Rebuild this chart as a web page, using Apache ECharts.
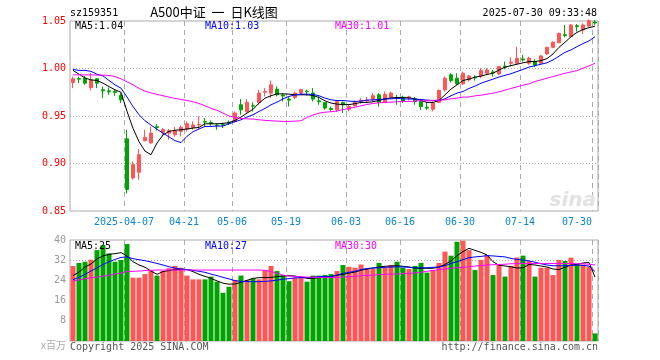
<!DOCTYPE html>
<html><head><meta charset="utf-8">
<script src="https://cdn.jsdelivr.net/npm/echarts@6/dist/echarts.min.js"></script>
<style>html,body{margin:0;padding:0;background:#fff;}#c{width:660px;height:360px;}</style>
</head><body><div id="c"></div>
<script>
const dates = [
'2025-03-24','2025-03-25','2025-03-26','2025-03-27','2025-03-28','2025-03-31',
'2025-04-01','2025-04-02','2025-04-03',
'2025-04-07','2025-04-08','2025-04-09','2025-04-10','2025-04-11',
'2025-04-14','2025-04-15','2025-04-16','2025-04-17','2025-04-18',
'2025-04-21','2025-04-22','2025-04-23','2025-04-24','2025-04-25',
'2025-04-28','2025-04-29','2025-04-30',
'2025-05-06','2025-05-07','2025-05-08','2025-05-09',
'2025-05-12','2025-05-13','2025-05-14','2025-05-15','2025-05-16',
'2025-05-19','2025-05-20','2025-05-21','2025-05-22','2025-05-23',
'2025-05-26','2025-05-27','2025-05-28','2025-05-29','2025-05-30',
'2025-06-03','2025-06-04','2025-06-05','2025-06-06',
'2025-06-09','2025-06-10','2025-06-11','2025-06-12','2025-06-13',
'2025-06-16','2025-06-17','2025-06-18','2025-06-19','2025-06-20',
'2025-06-23','2025-06-24','2025-06-25','2025-06-26','2025-06-27',
'2025-06-30',
'2025-07-01','2025-07-02','2025-07-03','2025-07-04',
'2025-07-07','2025-07-08','2025-07-09','2025-07-10','2025-07-11',
'2025-07-14','2025-07-15','2025-07-16','2025-07-17','2025-07-18',
'2025-07-21','2025-07-22','2025-07-23','2025-07-24','2025-07-25',
'2025-07-28','2025-07-29','2025-07-30'];

const opens = [0.9853,0.9895,0.9898,0.9800,0.9891,0.9776,0.9765,0.9758,0.9716,0.9260,
0.8848,0.8908,0.9240,0.9216,0.9387,0.9328,0.9320,0.9303,0.9338,0.9363,
0.9380,0.9405,0.9443,0.9432,0.9405,0.9412,0.9436,0.9443,0.9618,0.9548,
0.9611,0.9643,0.9751,0.9741,0.9783,0.9720,0.9678,0.9695,0.9741,0.9762,
0.9741,0.9660,0.9643,0.9580,0.9565,0.9643,0.9572,0.9607,0.9650,0.9657,
0.9670,0.9723,0.9643,0.9699,0.9695,0.9699,0.9691,0.9678,0.9653,0.9593,
0.9572,0.9643,0.9776,0.9933,0.9898,0.9838,0.9880,0.9908,0.9922,0.9950,
0.9964,0.9943,1.0024,1.0055,1.0055,1.0101,1.0055,1.0073,1.0055,1.0153,
1.0223,1.0272,1.0356,1.0335,1.0451,1.0405,1.0447,1.0489];
const closes = [0.9891,0.9888,0.9846,0.9881,0.9846,0.9765,0.9755,0.9748,0.9670,0.8726,
0.8988,0.9093,0.9275,0.9320,0.9380,0.9356,0.9345,0.9345,0.9380,0.9419,
0.9405,0.9412,0.9436,0.9418,0.9398,0.9405,0.9422,0.9531,0.9565,0.9643,
0.9604,0.9741,0.9758,0.9828,0.9723,0.9710,0.9667,0.9741,0.9776,0.9755,
0.9678,0.9650,0.9583,0.9569,0.9653,0.9618,0.9600,0.9643,0.9664,0.9667,
0.9713,0.9643,0.9727,0.9741,0.9684,0.9657,0.9702,0.9650,0.9600,0.9583,
0.9636,0.9769,0.9898,0.9874,0.9838,0.9950,0.9922,0.9901,0.9978,0.9985,
0.9954,1.0020,1.0013,1.0066,1.0108,1.0090,1.0108,1.0038,1.0132,1.0223,
1.0276,1.0370,1.0346,1.0458,1.0440,1.0458,1.0503,1.0479];
const lows = [0.9793,0.9846,0.9828,0.9769,0.9793,0.9688,0.9723,0.9713,0.9636,0.8684,
0.8830,0.8830,0.9233,0.9209,0.9348,0.9286,0.9250,0.9280,0.9286,0.9338,
0.9356,0.9356,0.9390,0.9398,0.9356,0.9373,0.9405,0.9432,0.9513,0.9531,
0.9548,0.9618,0.9706,0.9688,0.9706,0.9653,0.9600,0.9678,0.9727,0.9713,
0.9653,0.9618,0.9565,0.9548,0.9541,0.9531,0.9548,0.9600,0.9629,0.9636,
0.9653,0.9600,0.9636,0.9678,0.9618,0.9636,0.9664,0.9618,0.9565,0.9565,
0.9548,0.9636,0.9758,0.9852,0.9828,0.9828,0.9863,0.9873,0.9898,0.9933,
0.9915,0.9933,0.9992,1.0020,1.0038,1.0073,1.0038,1.0013,1.0038,1.0143,
1.0213,1.0265,1.0328,1.0328,1.0388,1.0363,1.0440,1.0458];
const highs = [0.9915,0.9915,0.9922,0.9950,0.9898,0.9810,0.9800,0.9776,0.9740,0.9355,
0.9023,0.9152,0.9355,0.9390,0.9415,0.9373,0.9363,0.9384,0.9398,0.9443,
0.9443,0.9496,0.9478,0.9453,0.9425,0.9432,0.9453,0.9548,0.9678,0.9678,
0.9643,0.9776,0.9793,0.9874,0.9811,0.9741,0.9699,0.9758,0.9786,0.9776,
0.9793,0.9706,0.9643,0.9600,0.9670,0.9653,0.9618,0.9664,0.9688,0.9699,
0.9741,0.9741,0.9758,0.9758,0.9723,0.9713,0.9713,0.9699,0.9670,0.9643,
0.9653,0.9780,0.9916,0.9950,0.9950,0.9968,0.9933,0.9929,1.0003,1.0003,
0.9985,1.0027,1.0073,1.0118,1.0230,1.0143,1.0125,1.0097,1.0143,1.0230,
1.0286,1.0377,1.0458,1.0468,1.0468,1.0475,1.0517,1.0510];

const ma5 = [0.998,0.994,0.990,0.988,0.9874,0.9846,0.981,0.9776,0.975,0.955,
0.937,0.923,0.913,0.9093,0.9216,0.930,0.9338,0.935,0.9356,0.9363,
0.9373,0.938,0.9418,0.9418,0.9418,0.9422,0.943,0.9453,0.9489,0.953,
0.957,0.9636,0.9688,0.9713,0.9733,0.9733,0.973,0.9723,0.9723,0.9723,
0.9716,0.9695,0.966,0.9636,0.9625,0.962,0.962,0.963,0.9643,0.9643,
0.965,0.9664,0.9681,0.9691,0.9695,0.9695,0.9691,0.9681,0.9664,0.9643,
0.9643,0.9664,0.9723,0.9783,0.9828,0.9874,0.9888,0.9909,0.992,0.9937,
0.995,0.9985,1.0014,1.003,1.0045,1.006,1.0073,1.0073,1.0083,1.0104,
1.0153,1.0223,1.0276,1.0335,1.038,1.0410,1.0430,1.0445];
const ma10 = [0.999,0.998,0.998,0.997,0.994,0.9922,0.9874,0.9828,0.9793,0.970,
0.960,0.9513,0.945,0.9405,0.936,0.932,0.928,0.924,0.922,0.9286,
0.9334,0.9363,0.939,0.939,0.9394,0.9394,0.9418,0.944,0.946,0.9489,
0.9513,0.9548,0.958,0.9618,0.9646,0.968,0.9706,0.9723,0.973,0.973,
0.9727,0.9713,0.9688,0.967,0.9663,0.9663,0.9657,0.9653,0.9657,0.9667,
0.967,0.9674,0.9678,0.9681,0.9685,0.9681,0.9678,0.9678,0.9674,0.9667,
0.9663,0.9663,0.9681,0.9713,0.9741,0.9758,0.9790,0.9815,0.9845,0.9867,
0.9888,0.9910,0.9928,0.9945,0.9968,0.9990,1.0015,1.0030,1.0045,1.0060,
1.0090,1.0130,1.0170,1.0195,1.0230,1.0262,1.0290,1.0335];
const ma30 = [0.9933,0.9933,0.9933,0.9933,0.993,0.993,0.9926,0.9916,0.9891,0.986,
0.9828,0.979,0.9762,0.9744,0.9727,0.9713,0.9699,0.9685,0.9674,0.9664,
0.965,0.9632,0.9607,0.958,0.956,0.953,0.950,0.9485,0.9475,0.947,
0.9468,0.946,0.9454,0.945,0.9446,0.9443,0.9443,0.9446,0.945,0.9485,
0.951,0.953,0.954,0.9545,0.9552,0.9568,0.958,0.9593,0.9607,0.9621,
0.9632,0.9639,0.9643,0.9646,0.965,0.9653,0.9653,0.9657,0.966,0.966,
0.9664,0.9667,0.967,0.9681,0.9688,0.9699,0.970,0.9712,0.9719,0.973,
0.974,0.9754,0.9772,0.979,0.9807,0.9825,0.9838,0.9863,0.988,0.9898,
0.9915,0.9933,0.995,0.9964,0.9978,1.0003,1.0027,1.0055];

const volumes = [29.7,30.9,31.4,32.2,36.0,38.0,34.7,31.4,32.1,38.4,
25.1,25.1,26.5,27.8,25.9,27.8,28.8,29.7,29.0,25.9,
24.4,24.4,24.4,25.5,23.5,19.1,21.5,24.2,25.9,24.2,
24.8,24.4,28.0,29.7,27.7,26.1,23.7,25.1,25.1,23.5,
25.9,25.9,26.1,26.5,27.7,30.1,29.4,29.0,30.3,28.8,
28.5,30.9,29.2,30.1,31.4,29.0,28.5,29.7,30.9,27.1,
28.1,30.9,35.4,33.8,39.3,39.7,36.0,28.1,32.1,34.1,
26.1,30.3,25.5,29.7,33.1,33.8,31.7,25.5,29.0,29.0,
26.1,32.1,31.7,33.0,30.7,30.3,29.5,3.0];
const vma5 = [25.9,27.3,29.3,30.5,32.5,33.7,34.3,34.6,35.0,33.7,
31.4,30.1,29.2,27.7,26.4,27.5,27.9,28.3,28.4,28.3,
27.5,26.4,25.6,24.8,23.8,22.9,22.5,22.6,23.2,24.0,
24.8,25.1,25.1,25.2,25.5,25.7,25.9,25.7,25.3,24.8,
24.8,25.1,25.3,25.5,26.0,26.4,26.9,27.3,28.0,28.5,
28.9,29.3,29.6,29.7,29.8,29.6,29.3,28.9,28.8,28.8,
28.8,29.3,30.3,31.7,33.8,35.4,36.7,35.9,35.1,34.1,
31.4,30.0,29.7,29.4,28.9,29.0,30.3,30.1,29.7,29.3,
28.5,28.3,29.2,30.1,30.3,30.9,31.1,25.3];
const vma10 = [24.3,25.2,26.4,27.7,29.0,30.3,31.4,32.3,33.1,33.3,
32.6,32.2,31.8,31.3,30.7,30.1,29.4,28.9,28.5,28.3,
28.0,27.6,27.2,26.5,25.9,25.2,24.6,23.9,23.6,23.5,
23.5,23.5,23.6,23.8,24.1,24.5,24.7,25.0,25.1,25.1,
25.2,25.5,25.6,25.6,26.1,26.8,27.2,27.6,28.3,28.7,
28.9,29.0,29.2,29.3,29.4,29.3,29.2,29.0,29.0,29.0,
29.2,29.3,29.8,30.7,31.4,32.2,33.0,33.3,33.5,33.8,
33.7,33.5,33.3,32.7,32.3,32.1,31.7,31.2,30.6,30.1,
29.8,29.8,29.8,29.9,30.1,29.9,29.7,27.5];
const vma30 = [23.8,24.2,24.6,25.1,25.3,25.7,26.0,26.5,26.9,27.5,
27.6,27.7,27.9,28.0,28.1,28.1,28.1,28.1,28.1,28.1,
28.1,28.1,28.1,28.1,28.1,28.1,28.1,28.1,28.1,28.1,
28.1,28.1,28.0,27.5,26.8,26.1,25.7,25.6,25.5,25.3,
25.3,25.2,25.1,25.1,25.2,25.3,25.5,25.6,25.9,26.0,
26.1,26.3,26.4,26.5,26.5,26.7,26.8,26.9,27.2,27.6,
27.9,28.3,28.5,28.8,29.0,29.2,29.4,29.7,29.9,30.1,
30.2,30.3,30.4,30.6,30.6,30.7,30.7,30.7,30.7,30.7,
30.7,30.7,30.7,30.7,30.6,30.6,30.4,30.1];

const xTickLabels = ['2025-04-07','04-21','05-06','05-19','06-03','06-16','06-30','07-14','07-30'];
const priceTicks = [0.85, 0.90, 0.95, 1.00, 1.05];
const volTicks = [0, 8, 16, 24, 32, 40];

const RED = '#ff5555', GREEN = '#00a400', GRAYLINE = '#aaaaaa';
const MONO = '"DejaVu Sans Mono", monospace';
const tickIdx = xTickLabels.map(t => dates.indexOf(t.length === 10 ? t : '2025-' + t));
const tickSet = new Set(tickIdx);
const lastTick = tickIdx[tickIdx.length - 1];

const chart = echarts.init(document.getElementById('c'), null, {renderer: 'canvas', width: 660, height: 360});

const xCommon = (gi, showLabel) => ({
  type: 'category', data: dates, gridIndex: gi, boundaryGap: true,
  axisLine: {show: false}, axisTick: {show: false},
  axisLabel: {
    show: showLabel,
    interval: (i) => tickSet.has(i),
    formatter: (v, i) => {
      const k = tickIdx.indexOf(i);
      if (k < 0) return '';
      return (i === lastTick ? '{b|' : '{a|') + xTickLabels[k] + '}';
    },
    margin: 6,
    rich: {
      a: {color: '#0a86cc', fontFamily: MONO, fontSize: 10, padding: [0, 6, 0, 0]},
      b: {color: '#0a86cc', fontFamily: MONO, fontSize: 10, padding: [0, 36, 0, 0]}
    }
  },
  splitLine: {show: true, interval: (i) => tickSet.has(i), lineStyle: {color: GRAYLINE, width: 1, type: [5, 4]}}
});

const option = {
  animation: false,
  backgroundColor: '#ffffff',
  grid: [
    {left: 70, top: 21, width: 528, height: 190, show: true, borderColor: GRAYLINE, borderWidth: 1, backgroundColor: 'transparent'},
    {left: 70, top: 240, width: 528, height: 101, show: true, borderColor: GRAYLINE, borderWidth: 1, backgroundColor: 'transparent'}
  ],
  xAxis: [xCommon(0, true), xCommon(1, false)],
  yAxis: [
    {type: 'value', gridIndex: 0, min: priceTicks[0], max: priceTicks[priceTicks.length - 1], interval: 0.05,
     axisLine: {show: false}, axisTick: {show: false},
     axisLabel: {color: '#ff0000', fontFamily: MONO, fontSize: 10, margin: 4, formatter: v => v.toFixed(2)},
     splitLine: {show: true, showMinLine: false, showMaxLine: false, lineStyle: {color: GRAYLINE, width: 1, type: [1, 2]}}},
    {type: 'value', gridIndex: 1, min: volTicks[0], max: volTicks[volTicks.length - 1], interval: 8,
     axisLine: {show: false}, axisTick: {show: false},
     axisLabel: {color: '#999999', fontFamily: MONO, fontSize: 10, margin: 4, formatter: v => v === 0 ? '' : String(v)},
     splitLine: {show: false}},
    {type: 'value', gridIndex: 1, min: 0, max: 40, interval: 32,
     axisLine: {show: false}, axisTick: {show: false}, axisLabel: {show: false},
     splitLine: {show: true, showMinLine: false, showMaxLine: false, lineStyle: {color: GRAYLINE, width: 1, type: [1, 2]}}}
  ],
  series: [
    {type: 'candlestick', xAxisIndex: 0, yAxisIndex: 0, barWidth: 4,
     data: dates.map((d, i) => [opens[i], closes[i], lows[i], highs[i]]),
     itemStyle: {color: RED, color0: GREEN, borderColor: RED, borderColor0: GREEN, borderWidth: 1}, z: 2},
    {type: 'line', xAxisIndex: 0, yAxisIndex: 0, data: ma5, showSymbol: false, symbol: 'none', lineStyle: {color: '#000000', width: 1}, z: 3},
    {type: 'line', xAxisIndex: 0, yAxisIndex: 0, data: ma10, showSymbol: false, symbol: 'none', lineStyle: {color: '#0000ff', width: 1}, z: 3},
    {type: 'line', xAxisIndex: 0, yAxisIndex: 0, data: ma30, showSymbol: false, symbol: 'none', lineStyle: {color: '#ff00ff', width: 1}, z: 3},
    {type: 'bar', xAxisIndex: 1, yAxisIndex: 1, barWidth: 5, data: volumes,
     itemStyle: {color: (p) => closes[p.dataIndex] >= opens[p.dataIndex] ? RED : GREEN}, z: 2},
    {type: 'line', xAxisIndex: 1, yAxisIndex: 1, data: vma5, showSymbol: false, symbol: 'none', lineStyle: {color: '#000000', width: 1}, z: 3},
    {type: 'line', xAxisIndex: 1, yAxisIndex: 1, data: vma10, showSymbol: false, symbol: 'none', lineStyle: {color: '#0000ff', width: 1}, z: 3},
    {type: 'line', xAxisIndex: 1, yAxisIndex: 1, data: vma30, showSymbol: false, symbol: 'none', lineStyle: {color: '#ff00ff', width: 1}, z: 3}
  ],
  graphic: [
    {type: 'text', z: 10, style: {text: 'sina', x: 596, y: 201, textAlign: 'right', textVerticalAlign: 'middle', fill: '#e2e2e2', font: 'italic bold 20px "DejaVu Sans"'}},
    {type: 'text', z: 10, style: {text: 'sz159351', x: 70, y: 13, textAlign: 'left', textVerticalAlign: 'middle', fill: '#000000', font: '10px ' + MONO}},
    {type: 'text', z: 10, style: {text: 'A500中证  一  日K线图', x: 214, y: 12, textAlign: 'center', textVerticalAlign: 'middle', fill: '#000000', font: '13px "Noto Sans CJK SC"'}},
    {type: 'text', z: 10, style: {text: '2025-07-30 09:33:48', x: 597, y: 13, textAlign: 'right', textVerticalAlign: 'middle', fill: '#000000', font: '10px ' + MONO}},
    {type: 'text', z: 10, style: {text: 'MA5:' + ma5[ma5.length - 1].toFixed(2), x: 75, y: 26, textAlign: 'left', textVerticalAlign: 'middle', fill: '#000000', font: '10px ' + MONO}},
    {type: 'text', z: 10, style: {text: 'MA10:' + ma10[ma10.length - 1].toFixed(2), x: 205, y: 26, textAlign: 'left', textVerticalAlign: 'middle', fill: '#0000ff', font: '10px ' + MONO}},
    {type: 'text', z: 10, style: {text: 'MA30:' + ma30[ma30.length - 1].toFixed(2), x: 335, y: 26, textAlign: 'left', textVerticalAlign: 'middle', fill: '#ff00ff', font: '10px ' + MONO}},
    {type: 'text', z: 10, style: {text: 'MA5:' + Math.floor(vma5[vma5.length - 1]), x: 75, y: 246, textAlign: 'left', textVerticalAlign: 'middle', fill: '#000000', font: '10px ' + MONO}},
    {type: 'text', z: 10, style: {text: 'MA10:' + Math.floor(vma10[vma10.length - 1]), x: 205, y: 246, textAlign: 'left', textVerticalAlign: 'middle', fill: '#0000ff', font: '10px ' + MONO}},
    {type: 'text', z: 10, style: {text: 'MA30:' + Math.floor(vma30[vma30.length - 1]), x: 335, y: 246, textAlign: 'left', textVerticalAlign: 'middle', fill: '#ff00ff', font: '10px ' + MONO}},
    {type: 'text', z: 10, style: {text: 'x百万', x: 66, y: 345, textAlign: 'right', textVerticalAlign: 'middle', fill: '#aaaaaa', font: '10px "Noto Sans CJK SC"'}},
    {type: 'text', z: 10, style: {text: 'Copyright 2025 SINA.COM', x: 70, y: 347, textAlign: 'left', textVerticalAlign: 'middle', fill: '#555555', font: '10px ' + MONO}},
    {type: 'text', z: 10, style: {text: 'http://finance.sina.com.cn', x: 598, y: 347, textAlign: 'right', textVerticalAlign: 'middle', fill: '#555555', font: '10px ' + MONO}}
  ]
};
chart.setOption(option);
</script>
</body></html>
